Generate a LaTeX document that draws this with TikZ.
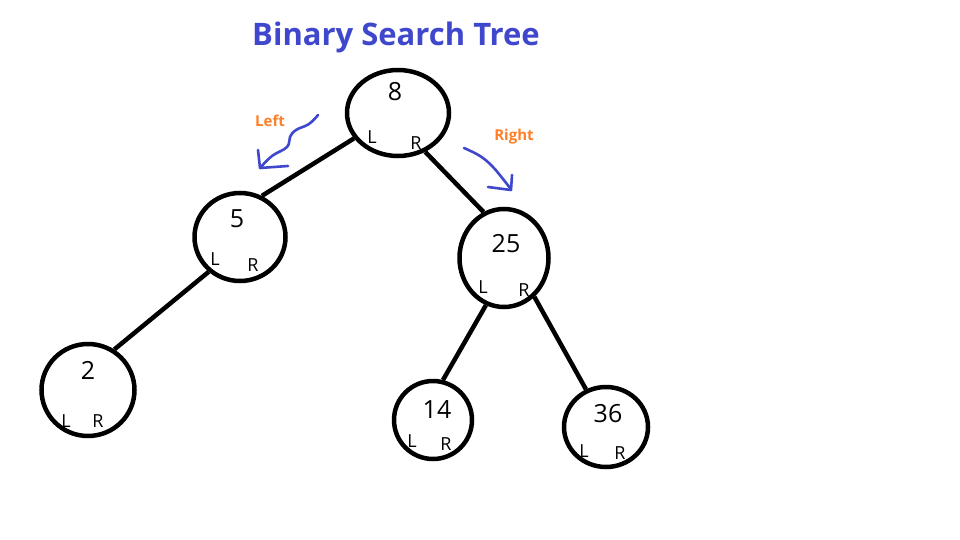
\documentclass[tikz,border=0pt]{standalone}
\usepackage{fontspec}
\setmainfont{Open Sans}
\usetikzlibrary{shapes.geometric}
\definecolor{paintblue}{RGB}{63,72,204}
\definecolor{paintorange}{RGB}{255,127,39}
\begin{document}
\begin{tikzpicture}
        [x=1pt,y=-1pt,
        bst/.style={draw=black,ellipse,line width=4.5pt,inner sep=0pt},
        num/.style={inner sep=0pt,font=\fontsize{25}{27}\selectfont},
        lr/.style={inner sep=0pt,font=\fontsize{18}{20}\selectfont},
        side/.style={inner sep=0pt,text=paintorange,font=\fontsize{15}{17}\selectfont\bfseries},
        link/.style={draw,line width=4.5pt},
        squig/.style={draw=paintblue,line width=2.6pt,line cap=round,line join=round}]
        \useasboundingbox[fill=white] (0,0) rectangle (960,540);
        \node[inner sep=0pt,text=paintblue,font=\fontsize{31}{35}\selectfont\bfseries] (title) at (396,37) {Binary Search Tree};
        % the tree
        \node[bst,minimum width=102,minimum height=86] (n8) at (398,113) {};
        \node[num] (n8v) at (395,92) {8};
        \node[lr] (n8l) at (372,137) {L};
        \node[lr] (n8r) at (416,143) {R};
        \node[bst,minimum width=91,minimum height=88] (n5) at (240,237) {};
        \node[num] (n5v) at (237,219) {5};
        \node[lr] (n5l) at (215,259) {L};
        \node[lr] (n5r) at (253,265) {R};
        \node[bst,minimum width=89,minimum height=98] (n25) at (504,258) {};
        \node[num] (n25v) at (506,244) {25};
        \node[lr] (n25l) at (483,287) {L};
        \node[lr] (n25r) at (524,290) {R};
        \node[bst,minimum width=93,minimum height=92] (n2) at (88,390) {};
        \node[num] (n2v) at (88,370) {2};
        \node[lr] (n2l) at (66,421) {L};
        \node[lr] (n2r) at (98,421) {R};
        \node[bst,minimum width=78,minimum height=78] (n14) at (433,420) {};
        \node[num] (n14v) at (437,410) {14};
        \node[lr] (n14l) at (412,441) {L};
        \node[lr] (n14r) at (446,444) {R};
        \node[bst,minimum width=84,minimum height=80] (n36) at (606,427) {};
        \node[num] (n36v) at (608,414) {36};
        \node[lr] (n36l) at (584,451) {L};
        \node[lr] (n36r) at (620,453) {R};
        \draw[link] (n8.210) -- (n5.62);
        \draw[link] (n8.305) -- (n25.114);
        \draw[link] (n5.228) -- (n2.57);
        \draw[link] (n25.249) -- (n14.76);
        \draw[link] (n25.308) -- (n36.118);
        % left and right hints
        \node[side] (left) at (270,121) {Left};
        \node[side] (right) at (514,137) {Right};
        \draw[squig] plot[smooth,tension=0.7] coordinates {(318,115) (309,124) (296,130) (290,137) (287,147) (272,156) (260,168)};
        \draw[squig] (258,150) -- (260,168) -- (288,166);
        \draw[squig] plot[smooth,tension=0.7] coordinates {(464,148) (480,156) (492,166) (503,179) (510,188)};
        \draw[squig] (512,175) -- (511,190) -- (488,187);
        \end{tikzpicture}
\end{document}
